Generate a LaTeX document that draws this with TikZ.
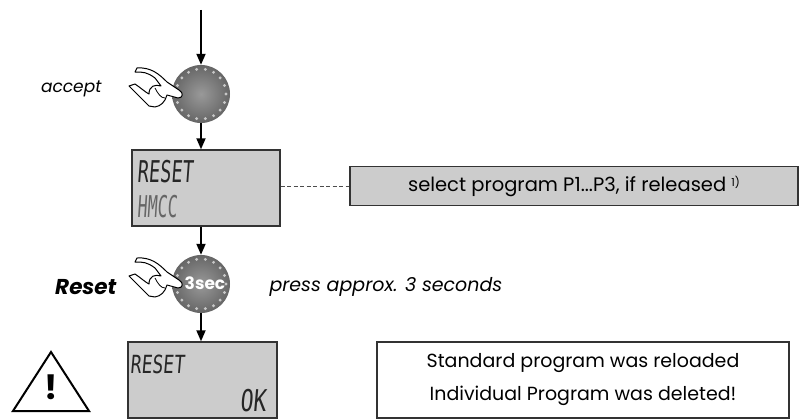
\documentclass[tikz,border=0pt]{standalone}
\usepackage{fontspec}
\setmainfont{Poppins}
\newfontfamily\lcdfont{DejaVu Sans Mono}[FakeSlant=0.12]
\usetikzlibrary{arrows.meta,positioning}
\tikzset{
  flow/.style={-{Triangle[length=11pt,width=9pt]},line width=1.8pt},
  knob/.style={circle,minimum size=58pt,inner sep=0pt,inner color=black!40,outer color=black!60},
  lcd/.style={draw=black!80,line width=1.4pt,fill=black!20,minimum height=76pt,inner sep=0pt},
  infobox/.style={draw=black!80,line width=1.2pt,inner sep=0pt,align=center},
  lcdtext/.style={font=\lcdfont\fontsize{30}{30}\selectfont,inner sep=0pt,text=black!85},
  pointhand/.pic={
    \draw[line width=1pt,fill=white,line join=round]
      (-64,-26) .. controls (-50,-27) and (-42,-20) .. (-34,-12)
      -- (-22,-4) .. controls (-17,-1) and (-18,4) .. (-23,4)
      -- (-34,1) .. controls (-36,8) and (-40,12) .. (-46,13)
      -- (-52,12) .. controls (-58,6) and (-66,-2) .. (-72,-8)
      -- (-66,-10) .. controls (-60,-6) and (-56,-2) .. (-52,0)
      .. controls (-52,-8) and (-46,-10) .. (-40,-8)
      -- (-46,-16) .. controls (-54,-22) and (-58,-22) .. (-66,-22) -- cycle;
    \draw[line width=0.8pt] (-46,-6) .. controls (-43,0) and (-40,4) .. (-36,4);
  }
}
\begin{document}
\begin{tikzpicture}[x=1pt,y=-1pt]
\useasboundingbox (0,0) rectangle (801,420);
% buttons and displays
\node[knob] (c1) at (201,94) {};
\node[lcd,minimum width=148pt] (lcd1) at (206,188) {};
\node[knob] (c2) at (201,284) {};
\node[lcd,minimum width=149pt] (lcd2) at (202.5,380) {};
\foreach \n in {c1,c2}
  \foreach \a in {0,20,...,340}
    \fill[black!22] (\n) ++(\a:25) circle (1.6pt);
\pic at (c1) {pointhand};
\pic at (c2) {pointhand};
\node[font=\bfseries\fontsize{17}{17}\selectfont,text=white] (sec) at (205,283) {3sec};
% display texts
\node[lcdtext,anchor=west] (l1a) at (137,172) {\scalebox{0.62}[1]{RESET}};
\node[lcdtext,anchor=west,text=black!60] (l1b) at (137,207) {\scalebox{0.55}[1]{HMCC}};
\node[lcdtext,anchor=west,font=\lcdfont\fontsize{25}{25}\selectfont] (l2a) at (130,364) {\scalebox{0.72}[1]{RESET}};
\node[lcdtext,anchor=east] (l2b) at (266,401) {\scalebox{0.72}[1]{OK}};
% side boxes
\node[infobox,fill=black!20,minimum width=448pt,minimum height=39pt,
  font=\fontsize{19.5}{19.5}\selectfont] (sel) at (574,186)
  {select program P1...P3, if released \raisebox{5pt}{\fontsize{11}{11}\selectfont 1)}};
\node[infobox,fill=white,minimum width=412pt,minimum height=76pt,
  font=\fontsize{19}{33}\selectfont] (std) at (583,380)
  {Standard program was reloaded\\Individual Program was deleted!};
% labels
\node[left,font=\itshape\fontsize{17}{17}\selectfont] (acc) at (105,89) {accept};
\node[left,font=\bfseries\itshape\fontsize{21.5}{21.5}\selectfont] (rst) at (120,287) {Reset};
\node[right,font=\itshape\fontsize{19}{19}\selectfont] (prs) at (266,287) {press approx. 3 seconds};
% warning sign
\draw[line width=2pt,line join=miter] (51,352) -- (89,411) -- (13,411) -- cycle;
\node[font=\bfseries\fontsize{34}{34}\selectfont] (warn) at (51,387) {!};
% connectors
\coordinate (in) at (201,10);
\draw[flow] (in) -- (c1);
\draw[flow] (c1) -- (c1 |- lcd1.north);
\draw[flow] (c1 |- lcd1.south) -- (c2);
\draw[flow] (c2) -- (c2 |- lcd2.north);
\draw[gray!60!black,line width=1pt,dash pattern=on 4pt off 2.5pt] (lcd1.east |- sel.west) -- (sel.west);
\end{tikzpicture}
\end{document}
